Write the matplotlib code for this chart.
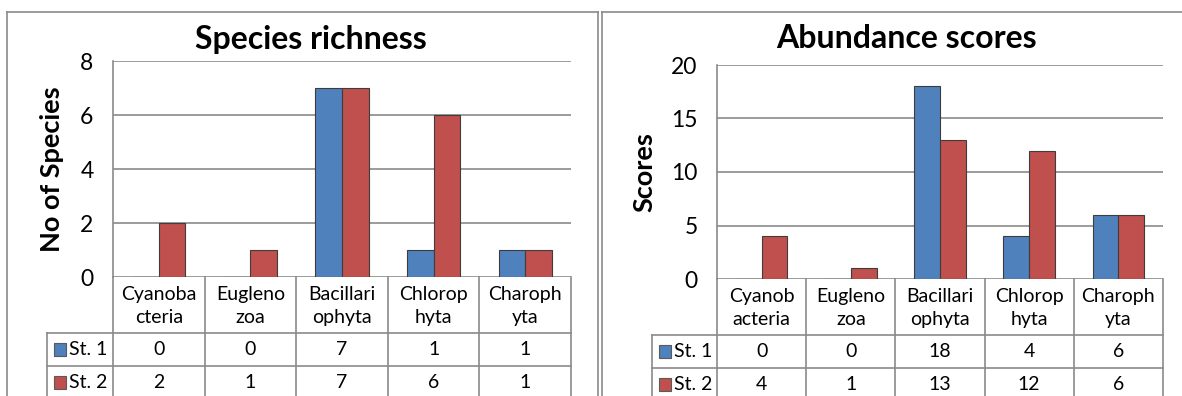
import matplotlib

matplotlib.use("Agg")
import numpy as np
from matplotlib import pyplot as plt
from matplotlib.lines import Line2D
from matplotlib.patches import Rectangle
from matplotlib.transforms import blended_transform_factory

# ---------- dati ----------
series = ["St. 1", "St. 2"]
labels_rich = ["Cyanoba\ncteria", "Eugleno\nzoa", "Bacillari\nophyta", "Chlorop\nhyta", "Charoph\nyta"]
labels_abund = ["Cyanob\nacteria", "Eugleno\nzoa", "Bacillari\nophyta", "Chlorop\nhyta", "Charoph\nyta"]
rich_st1 = [0, 0, 7, 1, 1]
rich_st2 = [2, 1, 7, 6, 1]
abund_st1 = [0, 0, 18, 4, 6]
abund_st2 = [4, 1, 13, 12, 6]

BLUE = "#4f81bd"
RED = "#c0504d"
GRID = "#8a8a8a"
FRAME = "#8a8a8a"

W, H = 1182, 396
plt.rcParams["font.family"] = ["Lato", "DejaVu Sans"]
fig = plt.figure(figsize=(W / 100, H / 100), dpi=100)


def fx(px):
    return px / W


def fy(py):
    return 1 - py / H


def panel(box, title, title_x, ylabel, ylabel_x, ymax, ystep, labels, v1, v2, legend_x):
    left, top, right, bottom = box
    ax = fig.add_axes([fx(left), fy(bottom), fx(right - left), (bottom - top) / H])
    x = np.arange(len(labels))
    w = 0.29
    ax.bar(x - w / 2, v1, w, color=BLUE, edgecolor="#3d3d3d", lw=0.8, zorder=3)
    ax.bar(x + w / 2, v2, w, color=RED, edgecolor="#3d3d3d", lw=0.8, zorder=3)
    ax.set_xlim(-0.5, len(labels) - 0.5)
    ax.set_ylim(0, ymax)
    ax.set_yticks(range(0, ymax + 1, ystep))
    ax.set_xticks([])
    ax.yaxis.grid(True, color=GRID, lw=1.2)
    ax.set_axisbelow(True)
    for s in ["top", "right", "bottom"]:
        ax.spines[s].set_visible(False)
    ax.spines["left"].set_color(GRID)
    ax.spines["left"].set_linewidth(1.2)
    ax.tick_params(axis="y", length=0, labelsize=16.5, pad=14)

    fig.text(fx(title_x), fy(39), title, ha="center", va="center",
             fontsize=23, fontweight="bold")
    fig.text(fx(ylabel_x), fy((top + bottom) / 2), ylabel, ha="center", va="center",
             rotation=90, fontsize=19.5, fontweight="bold")

    # tabella dati sotto il grafico
    h = bottom - top
    yf = lambda py: -(py - bottom) / h
    lf = (legend_x - left) / (right - left)
    rows = [bottom, bottom + 56, bottom + 89, bottom + 122]
    n = len(labels)
    kw = dict(color=FRAME, lw=1.2, transform=ax.transAxes, clip_on=False)
    for i in range(n + 1):
        ax.add_line(Line2D([i / n, i / n], [0, yf(rows[3])], **kw))
    ax.add_line(Line2D([lf, lf], [yf(rows[1]), yf(rows[3])], **kw))
    for r in rows[1:3]:
        ax.add_line(Line2D([lf, 1], [yf(r), yf(r)], **kw))
    tr = blended_transform_factory(ax.transData, ax.transAxes)
    for i, lab in enumerate(labels):
        ax.text(i, yf((rows[0] + rows[1]) / 2 + 1), lab, transform=tr, ha="center",
                va="center", fontsize=14, linespacing=1.4, clip_on=False)
    for k, (name, vals, col) in enumerate(zip(series, [v1, v2], [BLUE, RED])):
        yc = (rows[k + 1] + rows[k + 2]) / 2
        for i, v in enumerate(vals):
            ax.text(i, yf(yc), str(v), transform=tr, ha="center", va="center",
                    fontsize=14, clip_on=False)
        fig.add_artist(Rectangle((fx(legend_x + 7), fy(yc + 6.5)), fx(12), 13 / H,
                                 facecolor=col, edgecolor="#5a5a5a", lw=0.8))
        fig.text(fx(legend_x + 22), fy(yc), name, ha="left", va="center", fontsize=14)
    return ax


panel((113, 61, 571, 277), "Species richness", 311, "No of Species", 52,
      8, 2, labels_rich, rich_st1, rich_st2, 47)
panel((717, 65, 1163, 279), "Abundance scores", 906, "Scores", 644,
      20, 5, labels_abund, abund_st1, abund_st2, 652)

# cornici dei due pannelli
fkw = dict(color=FRAME, lw=1.2)
fig.add_artist(Line2D([fx(7), fx(598)], [fy(12), fy(12)], **fkw))
fig.add_artist(Line2D([fx(7), fx(7)], [fy(12), fy(400)], **fkw))
fig.add_artist(Line2D([fx(598), fx(598)], [fy(12), fy(400)], **fkw))
fig.add_artist(Line2D([fx(602), fx(602)], [fy(12), fy(400)], **fkw))
fig.add_artist(Line2D([fx(602), fx(1182)], [fy(12), fy(12)], **fkw))

fig.savefig("out.png", dpi=100)
